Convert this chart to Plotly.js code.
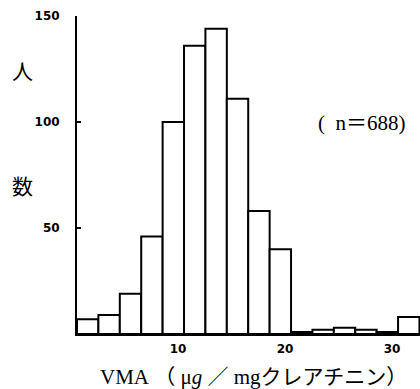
<!DOCTYPE html>
<html>
<head>
<meta charset="utf-8">
<script src="https://cdn.plot.ly/plotly-3.0.1.min.js"></script>
<style>
html,body{margin:0;padding:0;background:#fff;}
#chart{width:420px;height:389px;}
</style>
</head>
<body>
<div id="chart"></div>
<script>
// Histogram bins (VMA, µg/mg creatinine), bin width 2
var binCenters = [1, 3, 5, 7, 9, 11, 13, 15, 17, 19, 21, 23, 25, 27, 29, 31];
var counts = [7, 9, 19, 46, 100, 136, 144, 111, 58, 40, 1, 2, 3, 2, 1, 8];
var xTickVals = [10, 20, 30];
var xTickText = ["10", "20", "30"];
var yTickVals = [50, 100, 150];
var yTickText = ["50", "100", "150"];

var serif = "Liberation Serif, 'Noto Sans CJK JP', serif";
var cjk = "'Noto Sans CJK JP', 'Liberation Serif', serif";
var NB = "\u00a0";

var trace = {
  type: "bar",
  x: binCenters,
  y: counts,
  width: 2,
  marker: {color: "#ffffff", line: {color: "#000000", width: 2}},
  hoverinfo: "skip"
};

var layout = {
  width: 420,
  height: 389,
  margin: {l: 77, r: 0, t: 16, b: 55},
  paper_bgcolor: "#ffffff",
  plot_bgcolor: "#ffffff",
  showlegend: false,
  bargap: 0,
  xaxis: {
    range: [0, 32.05],
    showgrid: false,
    zeroline: false,
    showline: true,
    linecolor: "#000",
    linewidth: 2,
    ticks: "",
    tickvals: xTickVals,
    ticktext: xTickText,
    ticklabelshift: -6,
    ticklabelstandoff: 3,
    tickfont: {family: "DejaVu Sans", size: 12, weight: 600, color: "#000"}
  },
  yaxis: {
    range: [0, 150],
    showgrid: false,
    zeroline: false,
    showline: true,
    linecolor: "#000",
    linewidth: 2,
    ticks: "inside",
    ticklen: 4,
    tickwidth: 1.5,
    tickcolor: "#000",
    tickvals: yTickVals,
    ticktext: yTickText,
    ticklabelstandoff: 13,
    tickfont: {family: "DejaVu Sans", size: 12, weight: 600, color: "#000"}
  },
  annotations: [
    {text: "人", xref: "paper", yref: "paper", x: -0.158, y: 0.83, xanchor: "center", yanchor: "middle",
     showarrow: false, font: {family: cjk, size: 21, color: "#000"}},
    {text: "数", xref: "paper", yref: "paper", x: -0.158, y: 0.468, xanchor: "center", yanchor: "middle",
     showarrow: false, font: {family: cjk, size: 21, color: "#000"}},
    {text: "(" + NB + NB + "n＝688)", xref: "paper", yref: "paper", x: 0.965, y: 0.665, xanchor: "right", yanchor: "middle",
     showarrow: false, font: {family: serif, size: 21, color: "#000"}},
    {text: "VMA" + NB + "（" + NB + "μ<i>g</i>" + NB + "／" + NB + "mgクレアチニン）", xref: "paper", yref: "paper", x: 0.515, y: -0.135, xanchor: "center", yanchor: "middle",
     showarrow: false, font: {family: serif, size: 21, color: "#000"}}
  ]
};

Plotly.newPlot("chart", [trace], layout, {staticPlot: true, displayModeBar: false});
</script>
</body>
</html>
